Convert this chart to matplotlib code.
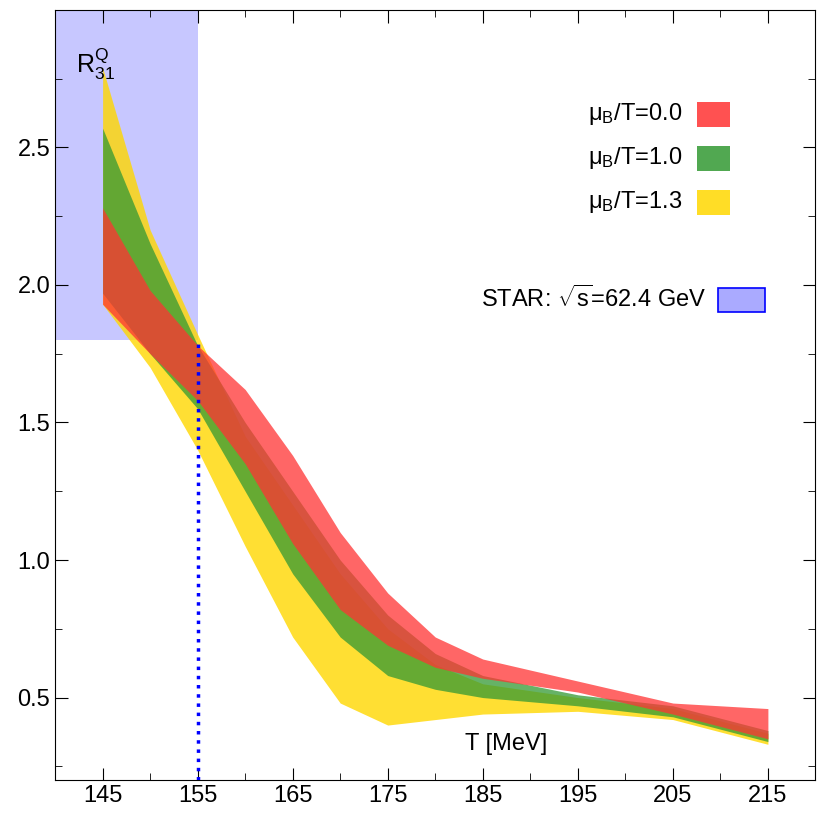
import matplotlib
matplotlib.use("Agg")
import matplotlib.pyplot as plt
from matplotlib.patches import Rectangle

T = [145, 150, 155, 160, 165, 170, 175, 180, 185, 195, 205, 215]
red_lo = [1.93, 1.75, 1.58, 1.35, 1.06, 0.82, 0.69, 0.61, 0.57, 0.52, 0.44, 0.35]
red_hi = [2.28, 1.98, 1.78, 1.62, 1.38, 1.10, 0.88, 0.72, 0.64, 0.56, 0.48, 0.46]
grn_lo = [1.97, 1.75, 1.55, 1.25, 0.95, 0.72, 0.58, 0.53, 0.50, 0.47, 0.43, 0.34]
grn_hi = [2.57, 2.15, 1.78, 1.50, 1.25, 1.00, 0.80, 0.66, 0.58, 0.51, 0.47, 0.38]
yel_lo = [1.93, 1.70, 1.40, 1.05, 0.72, 0.48, 0.40, 0.42, 0.44, 0.45, 0.42, 0.33]
yel_hi = [2.79, 2.20, 1.82, 1.45, 1.20, 0.95, 0.75, 0.62, 0.55, 0.50, 0.46, 0.37]
labels = ["$\\mathrm{\\mu_B}$/T=0.0", "$\\mathrm{\\mu_B}$/T=1.0", "$\\mathrm{\\mu_B}$/T=1.3"]
colors = ["#ff3333", "#339933", "#ffd700"]

plt.rcParams["font.family"] = "Liberation Sans"
plt.rcParams["mathtext.fontset"] = "custom"
plt.rcParams["mathtext.rm"] = "Liberation Sans"
plt.rcParams["font.size"] = 17
fig = plt.figure(figsize=(8.22, 8.22), dpi=100)
ax = fig.add_axes([0.067, 0.051, 0.925, 0.937])
ax.set_xlim(140, 220)
ax.set_ylim(0.2, 3.0)

ax.add_patch(Rectangle((140, 1.8), 15, 1.2, color="#aaaaff", alpha=0.65, zorder=0, lw=0))
ax.fill_between(T, yel_lo, yel_hi, color=colors[2], alpha=0.8, lw=0, zorder=1)
ax.fill_between(T, grn_lo, grn_hi, color=colors[1], alpha=0.75, lw=0, zorder=2)
ax.fill_between(T, red_lo, red_hi, color=colors[0], alpha=0.75, lw=0, zorder=3)
ax.plot([155, 155], [0.2, 1.8], color="blue", ls=":", lw=2.5, zorder=4)

for i, (lab, c) in enumerate(zip(labels, colors)):
    y = 2.62 - i * 0.16
    ax.text(206, y, lab, ha="right", va="center")
    ax.add_patch(Rectangle((207.5, y - 0.045), 3.5, 0.09, color=c, alpha=0.85, lw=0))
ax.text(208.5, 1.95, "STAR: $\\mathrm{\\sqrt{s}}$=62.4 GeV", ha="right", va="center")
ax.add_patch(Rectangle((209.7, 1.9), 5, 0.09, facecolor="#aaaaff", edgecolor="blue", lw=1.2))

ax.text(142.2, 2.77, "R$_{\\mathrm{31}}^{\\mathrm{Q}}$", fontsize=18)
ax.text(187.5, 0.33, "T [MeV]", ha="center", va="center")

ax.set_xticks([145, 155, 165, 175, 185, 195, 205, 215])
ax.set_xticks([150, 160, 170, 180, 190, 200, 210], minor=True)
ax.set_yticks([0.5, 1.0, 1.5, 2.0, 2.5])
ax.set_yticks([0.25, 0.75, 1.25, 1.75, 2.25, 2.75], minor=True)
ax.set_yticklabels(["0.5", "1.0", "1.5", "2.0", "2.5"])
ax.tick_params(which="both", direction="in", top=True, right=True)
ax.tick_params(which="major", length=9)
ax.tick_params(which="minor", length=5)
fig.savefig("out.png", dpi=100)
